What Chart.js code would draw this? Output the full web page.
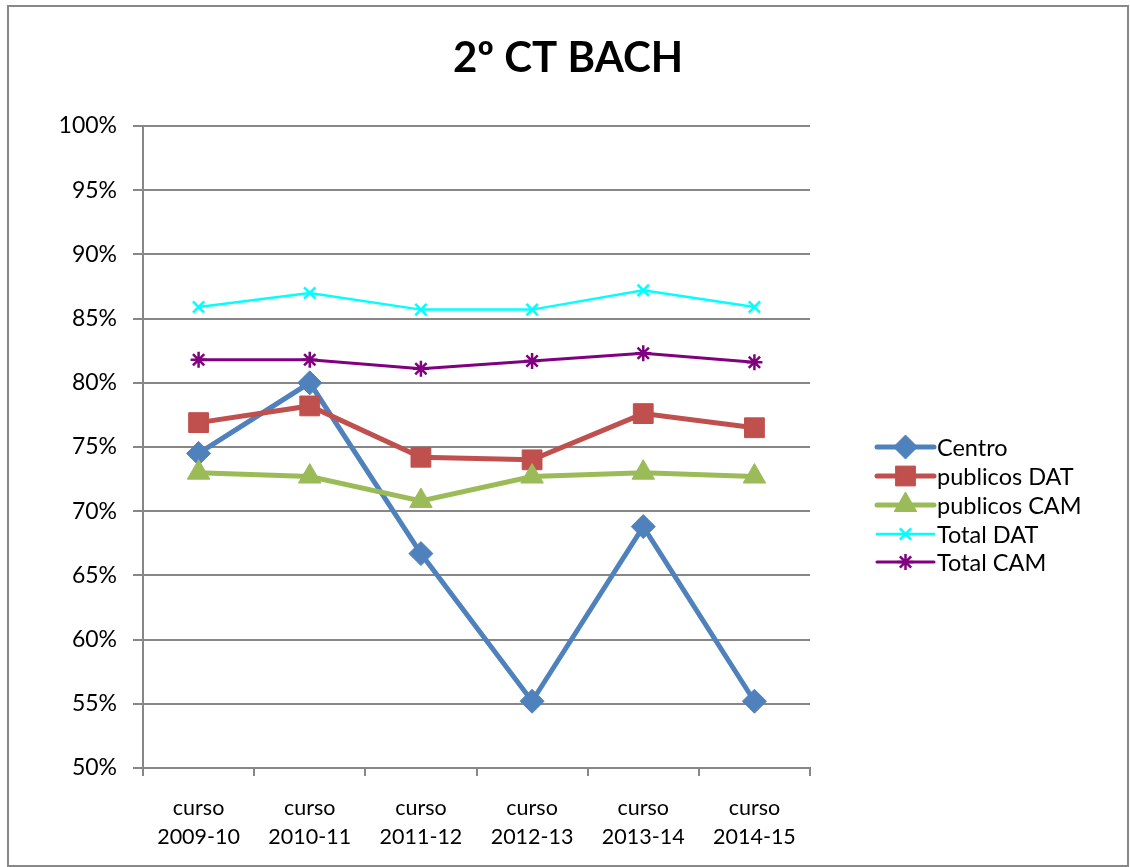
<!DOCTYPE html>
<html>
<head>
<meta charset="utf-8">
<script src="https://cdn.jsdelivr.net/npm/chart.js@4.4.1/dist/chart.umd.min.js"></script>
<style>
  html, body { margin: 0; padding: 0; background: #ffffff; }
  #wrap { position: relative; width: 1130px; height: 867px; }
</style>
</head>
<body>
<div id="wrap"><canvas id="c" width="1130" height="867"></canvas></div>
<script>
const TITLE = '2º CT BACH';
const categories = [
  ['curso', '2009-10'], ['curso', '2010-11'], ['curso', '2011-12'],
  ['curso', '2012-13'], ['curso', '2013-14'], ['curso', '2014-15']
];
const seriesNames = ['Centro', 'publicos DAT', 'publicos CAM', 'Total DAT', 'Total CAM'];
const centro      = [74.5, 80.0, 66.7, 55.2, 68.8, 55.2];
const publicosDAT = [76.9, 78.2, 74.2, 74.0, 77.6, 76.5];
const publicosCAM = [73.0, 72.7, 70.8, 72.7, 73.0, 72.7];
const totalDAT    = [85.9, 87.0, 85.7, 85.7, 87.2, 85.9];
const totalCAM    = [81.8, 81.8, 81.1, 81.7, 82.3, 81.6];
const yMin = 50, yMax = 100, yStep = 5;

const FONT = 'Lato, "Open Sans", "DejaVu Sans", sans-serif';
const GRID = '#878787';

const styles = [
  { color: '#4F81BD', width: 5, point: 'rectRot', radius: 12, pbw: 1 },
  { color: '#C0504D', width: 5, point: 'rect', radius: 14, pbw: 1 },
  { color: '#9BBB59', width: 5, point: 'triangle', radius: 13, pbw: 1 },
  { color: '#00FFFF', width: 2.5, point: 'crossRot', radius: 8, pbw: 2.5 },
  { color: '#800080', width: 3, point: 'star', radius: 8, pbw: 2.5 }
];
const values = [centro, publicosDAT, publicosCAM, totalDAT, totalCAM];

const datasets = values.map((v, i) => ({
  label: seriesNames[i],
  data: v,
  borderColor: styles[i].color,
  backgroundColor: styles[i].color,
  borderWidth: styles[i].width,
  pointStyle: styles[i].point,
  pointRadius: styles[i].radius,
  pointHoverRadius: styles[i].radius,
  pointBorderWidth: styles[i].pbw,
  pointBackgroundColor: styles[i].color,
  pointBorderColor: styles[i].color,
  tension: 0,
  order: values.length - i
}));

const decorPlugin = {
  id: 'decor',
  afterDraw(chart) {
    const ctx = chart.ctx;
    ctx.save();
    // outer border
    ctx.strokeStyle = '#888888';
    ctx.lineWidth = 2;
    ctx.strokeRect(8, 6, 1120, 860);
    // title
    ctx.fillStyle = '#000000';
    ctx.font = 'bold 42px ' + FONT;
    ctx.textAlign = 'center';
    ctx.textBaseline = 'middle';
    ctx.fillText(TITLE, 568, 58);
    // legend
    const lx0 = 877, lx1 = 934, tx = 937;
    const ys = [447, 476, 505, 534, 562];
    ctx.font = '23.5px ' + FONT;
    ctx.textAlign = 'left';
    chart.data.datasets.forEach((ds, i) => {
      const y = ys[i];
      ctx.strokeStyle = ds.borderColor;
      ctx.lineWidth = ds.borderWidth;
      ctx.lineCap = 'round';
      ctx.beginPath();
      ctx.moveTo(lx0, y);
      ctx.lineTo(lx1, y);
      ctx.stroke();
      ctx.lineCap = 'butt';
      if (Chart.helpers && Chart.helpers.drawPoint) {
        ctx.fillStyle = ds.backgroundColor;
        ctx.strokeStyle = ds.borderColor;
        ctx.lineWidth = ds.pointBorderWidth;
        Chart.helpers.drawPoint(ctx, {
          pointStyle: ds.pointStyle, radius: ds.pointRadius, rotation: 0,
          borderWidth: ds.pointBorderWidth
        }, (lx0 + lx1) / 2, y);
      }
      ctx.fillStyle = '#000000';
      ctx.fillText(ds.label, tx, y + 1);
    });
    ctx.restore();
  }
};

new Chart(document.getElementById('c'), {
  type: 'line',
  data: { labels: categories, datasets },
  options: {
    responsive: false,
    animation: false,
    devicePixelRatio: 1,
    layout: { padding: { top: 126, right: 320, bottom: 0, left: 0 } },
    plugins: {
      legend: { display: false },
      title: { display: false },
      tooltip: { enabled: false }
    },
    scales: {
      x: {
        offset: true,
        afterFit(scale) { scale.height = 99; },
        grid: {
          offset: true,
          drawOnChartArea: false,
          drawTicks: true,
          tickLength: 8,
          color: GRID,
          lineWidth: 2
        },
        border: { display: true, color: GRID, width: 2 },
        ticks: {
          color: '#000000',
          font: { family: FONT, size: 21.5, lineHeight: 1.32 },
          padding: 18,
          maxRotation: 0,
          autoSkip: false
        }
      },
      y: {
        min: yMin,
        max: yMax,
        afterFit(scale) { scale.width = 143; },
        grid: {
          color: GRID,
          lineWidth: 2,
          drawTicks: true,
          tickLength: 10
        },
        border: { display: true, color: GRID, width: 2 },
        ticks: {
          stepSize: yStep,
          color: '#000000',
          font: { family: FONT, size: 23 },
          padding: 16,
          callback: (v) => v + '%'
        }
      }
    }
  },
  plugins: [decorPlugin]
});
</script>
</body>
</html>
